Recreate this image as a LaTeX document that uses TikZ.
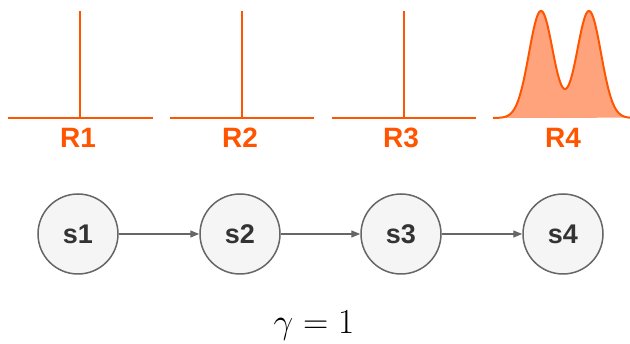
\documentclass[tikz,border=0pt]{standalone}
\usepackage{fontspec}
\setmainfont{Liberation Sans}
\usetikzlibrary{arrows.meta}
\definecolor{rorange}{RGB}{255,85,0}
\definecolor{rfill}{RGB}{255,163,125}
\definecolor{sgray}{RGB}{102,102,102}
\definecolor{sfill}{RGB}{245,245,245}
\definecolor{stext}{RGB}{51,51,51}
\begin{document}
\begin{tikzpicture}[x=1pt,y=-1pt,
  rline/.style={draw=rorange,line width=2pt},
  rlabel/.style={text=rorange,font=\fontsize{28}{30}\selectfont\bfseries,inner sep=0pt},
  state/.style={circle,draw=sgray,fill=sfill,line width=1.5pt,minimum size=80pt,inner sep=0pt,text=stext,font=\fontsize{27}{30}\selectfont\bfseries},
  trans/.style={draw=sgray,line width=1.3pt,-{Triangle[length=9pt,width=7pt]}}
]
\useasboundingbox (0,0) rectangle (630,344);
% reward distributions
\draw[rline] (8,118) -- (153,118);
\draw[rline] (80,118) -- (80,11);
\draw[rline] (170,118) -- (314,118);
\draw[rline] (242,118) -- (242,11);
\draw[rline] (332,118) -- (476,118);
\draw[rline] (404,118) -- (404,11);
\fill[rfill] plot[domain=493:630,samples=160,smooth] (\x,{118-107*(exp(-((\x-541)^2)/288)+exp(-((\x-589)^2)/288))}) -- cycle;
\draw[rline,line join=round] plot[domain=493:630,samples=160,smooth] (\x,{118-107*(exp(-((\x-541)^2)/288)+exp(-((\x-589)^2)/288))});
\node[rlabel] (r1) at (78,138) {R1};
\node[rlabel] (r2) at (240,138) {R2};
\node[rlabel] (r3) at (401,138) {R3};
\node[rlabel] (r4) at (563,138) {R4};
% states
\node[state] (s1) at (78,234) {s1};
\node[state] (s2) at (240,234) {s2};
\node[state] (s3) at (401,234) {s3};
\node[state] (s4) at (563,234) {s4};
\draw[trans] (s1) -- (s2);
\draw[trans] (s2) -- (s3);
\draw[trans] (s3) -- (s4);
\node[inner sep=0pt,font=\fontsize{24.88}{28}\selectfont,scale=1.41] (g) at (314,326) {$\gamma=1$};
\end{tikzpicture}
\end{document}
